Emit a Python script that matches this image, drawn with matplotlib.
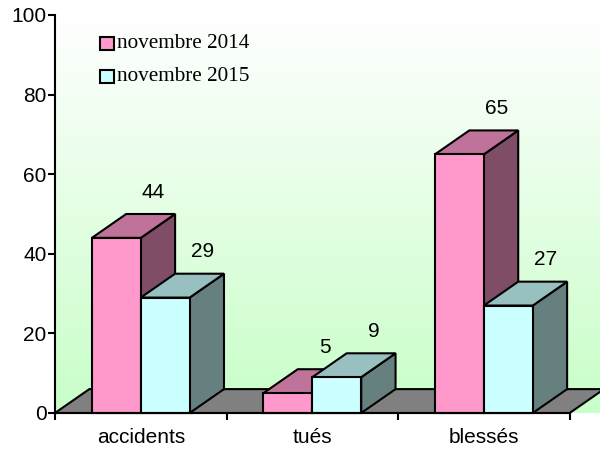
import numpy as np
import matplotlib
matplotlib.use("Agg")
import matplotlib.pyplot as plt
from matplotlib.patches import Polygon, Rectangle
from matplotlib.colors import LinearSegmentedColormap

categories = ["accidents", "tués", "blessés"]
series_names = ["novembre 2014", "novembre 2015"]
values_2014 = [44, 5, 65]
values_2015 = [29, 9, 27]

front_cols = ["#ff99cc", "#ccffff"]
top_cols = ["#c0739a", "#99c0c0"]
side_cols = ["#804d66", "#668080"]

W = 0.285     # bar width (category units)
DX = 0.2      # depth offset x
DY = 6.0      # depth offset y (value units)
PX = 171.7    # pixels per category unit

plt.rcParams["font.family"] = ["Liberation Sans", "DejaVu Sans"]

fig = plt.figure(figsize=(6, 4.5), dpi=100)
ax = fig.add_axes([55 / 600, 37 / 450, 549 / 600, 398 / 450])
ax.set_xlim(0, 3 + DX)
ax.set_ylim(0, 100)

# background gradient, white at top -> light green at bottom
cmap = LinearSegmentedColormap.from_list("bg", ["#c8fec8", "#ffffff"])
grad = np.linspace(0, 1, 256).reshape(-1, 1)
ax.imshow(grad, cmap=cmap, origin="lower", aspect="auto",
          extent=[0, 3 + DX, 0, 100], zorder=0)

# floor
ax.add_patch(Polygon([(0, 0), (3, 0), (3 + DX, DY), (DX, DY)], closed=True,
                     facecolor="#808080", edgecolor="black", lw=1.5, zorder=1,
                     clip_on=False))


def bar3d(x0, v, k):
    side = [(x0 + W, 0), (x0 + W + DX, DY), (x0 + W + DX, v + DY), (x0 + W, v)]
    top = [(x0, v), (x0 + W, v), (x0 + W + DX, v + DY), (x0 + DX, v + DY)]
    kw = dict(closed=True, edgecolor="black", lw=1.5, zorder=2, clip_on=False,
              joinstyle="miter")
    ax.add_patch(Polygon(side, facecolor=side_cols[k], **kw))
    ax.add_patch(Polygon(top, facecolor=top_cols[k], **kw))
    ax.add_patch(Rectangle((x0, 0), W, v, facecolor=front_cols[k],
                           edgecolor="black", lw=1.5, zorder=2, clip_on=False))
    ax.text(x0 + W / 2 + DX + 0.015, v + DY + 5.5, str(v), ha="center",
            va="center", fontsize=15, zorder=3)


for i in range(len(categories)):
    c = i + 0.5
    bar3d(c - W, values_2014[i], 0)
    bar3d(c, values_2015[i], 1)

# axes styling
for s in ["top", "right"]:
    ax.spines[s].set_visible(False)
ax.spines["left"].set_linewidth(1.5)
ax.spines["bottom"].set_linewidth(1.5)
ax.spines["bottom"].set_bounds(0, 3)
ax.spines["left"].set_zorder(4)
ax.spines["bottom"].set_zorder(4)

ax.set_yticks(range(0, 101, 20))
ax.tick_params(axis="y", direction="out", length=5, width=1.5, labelsize=15, pad=1)
ax.set_xticks([0.5, 1.5, 2.5])
ax.set_xticklabels(categories)
ax.tick_params(axis="x", which="major", length=0, labelsize=15, pad=11)
ax.set_xticks([0, 1, 2, 3], minor=True)
ax.tick_params(axis="x", which="minor", direction="out", length=5, width=1.5)

# legend
leg_y = [92.8, 84.5]
for k, name in enumerate(series_names):
    ax.add_patch(Rectangle(((100 - 55) / PX, leg_y[k] - 1.7), 14 / PX, 3.4,
                           facecolor=front_cols[k], edgecolor="black", lw=1.5,
                           zorder=5, clip_on=False))
    ax.text((117 - 55) / PX, leg_y[k], name, family="Liberation Serif",
            fontsize=15.3, va="center", ha="left", zorder=5)

fig.savefig("out.png", dpi=100)
